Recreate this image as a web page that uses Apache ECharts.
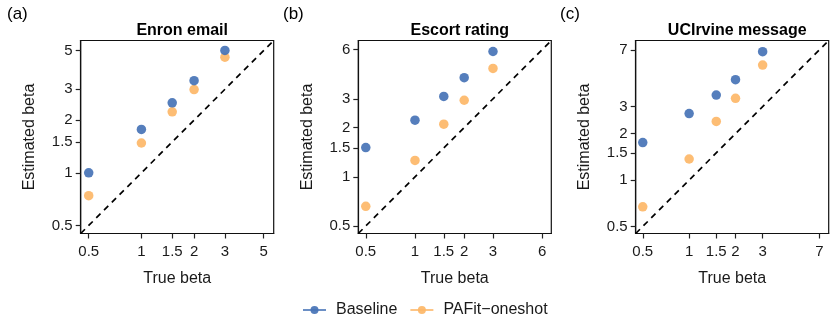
<!DOCTYPE html>
<html>
<head>
<meta charset="utf-8">
<script src="https://cdn.jsdelivr.net/npm/echarts@6/dist/echarts.min.js"></script>
<style>html,body{margin:0;padding:0;background:#fff;}#c{width:830px;height:331px;}</style>
</head>
<body>
<div id="c"></div>
<script>
// ---- data ----
const trueBeta = [0.5, 1, 1.5, 2, 3];
const enronBaseline = [1.00, 1.77, 2.51, 3.36, 5.00];
const enronPafit    = [0.74, 1.48, 2.23, 2.99, 4.58];
const escortBaseline = [1.51, 2.22, 3.10, 4.04, 5.84];
const escortPafit    = [0.66, 1.26, 2.10, 2.94, 4.60];
const uciBaseline = [1.75, 2.70, 3.56, 4.48, 6.81];
const uciPafit    = [0.67, 1.37, 2.40, 3.39, 5.58];
const enronTicks  = [0.5, 1, 1.5, 2, 3, 5];
const escortTicks = [0.5, 1, 1.5, 2, 3, 6];
const uciTicks    = [0.5, 1, 1.5, 2, 3, 7];
const panelTitles = ['Enron email', 'Escort rating', 'UCIrvine message'];
const panelLabels = ['(a)', '(b)', '(c)'];
const seriesNames = ['Baseline', 'PAFit\u2212oneshot'];

// ---- layout / style ----
const BLUE = '#4673b6', ORANGE = '#fdb768', TXT = '#1a1a1a';
const panels = [
  {left: 80.7, top: 40.5, ticks: enronTicks,  base: enronBaseline,  paf: enronPafit,  lo: 0.45, hi: 5.70, lab: 2},
  {left: 358.3, top: 40.5, ticks: escortTicks, base: escortBaseline, paf: escortPafit, lo: 0.45, hi: 6.82, lab: 278},
  {left: 635.7, top: 40.5, ticks: uciTicks,    base: uciBaseline,    paf: uciPafit,    lo: 0.45, hi: 8.05, lab: 555}
];
const SIZE = 193;
const lg = Math.log10;
const fmt = v => String(Number(Math.pow(10, v).toPrecision(3)));

const grid = [], xAxis = [], yAxis = [], series = [], title = [];
panels.forEach((p, i) => {
  grid.push({left: p.left, top: p.top, width: SIZE, height: SIZE, show: true,
    borderColor: '#111', borderWidth: 1.2, backgroundColor: 'transparent',
    containLabel: false, outerBoundsMode: 'none'});
  const tl = p.ticks.map(lg);
  const axisCommon = {
    type: 'value', gridIndex: i, min: lg(p.lo), max: lg(p.hi),
    axisLine: {show: true, onZero: false, lineStyle: {color: '#111', width: 1.2}},
    axisTick: {show: true, customValues: tl, length: 5, lineStyle: {color: '#222', width: 1.2}},
    axisLabel: {customValues: tl, formatter: fmt, fontSize: 15, color: TXT, margin: 8, fontFamily: 'Liberation Sans'},
    splitLine: {show: false},
    nameLocation: 'middle',
    nameTextStyle: {fontSize: 16, color: TXT, fontFamily: 'Liberation Sans'}
  };
  xAxis.push(Object.assign({}, axisCommon, {position: 'bottom', name: 'True beta', nameGap: 37,
    axisLabel: Object.assign({}, axisCommon.axisLabel, {margin: 11})}));
  yAxis.push(Object.assign({}, axisCommon, {position: 'left', name: 'Estimated beta', nameGap: 43}));
  series.push({
    type: 'line', name: 'diag' + i, xAxisIndex: i, yAxisIndex: i, silent: true, z: 1,
    symbol: 'none', data: [[lg(p.lo), lg(p.lo)], [lg(p.hi), lg(p.hi)]],
    lineStyle: {color: '#000', width: 1.7, type: [6, 5]}
  });
  [[p.base, BLUE, seriesNames[0]], [p.paf, ORANGE, seriesNames[1]]].forEach(([vals, col, nm], k) => {
    series.push({
      type: 'line', name: nm, xAxisIndex: i, yAxisIndex: i, z: 3 - k,
      color: col, symbol: 'circle', symbolSize: 9.5, showSymbol: true,
      lineStyle: {opacity: 0, width: 0}, itemStyle: {color: col, opacity: 0.92},
      emphasis: {disabled: true}, animation: false,
      data: trueBeta.map((x, j) => [lg(x), lg(vals[j])])
    });
  });
  title.push({text: panelTitles[i], left: p.left + SIZE / 2, top: 18, textAlign: 'center',
    textStyle: {fontSize: 16, fontWeight: 'bold', color: '#000', fontFamily: 'Liberation Sans'}});
  title.push({text: panelLabels[i], left: p.lab, top: 1,
    textStyle: {fontSize: 17, fontWeight: 'normal', color: '#000', fontFamily: 'Liberation Sans'}});
});

const chart = echarts.init(document.getElementById('c'), null, {renderer: 'canvas'});
chart.setOption({
  animation: false,
  title, grid, xAxis, yAxis, series,
  legend: {
    data: seriesNames, left: 297, top: 297, itemWidth: 23, itemHeight: 10, itemGap: 12,
    selectedMode: false,
    lineStyle: {opacity: 0.8, width: 2},
    textStyle: {fontSize: 16, color: TXT, fontFamily: 'Liberation Sans', padding: [0, 0, 0, 5]}
  }
});
</script>
</body>
</html>
